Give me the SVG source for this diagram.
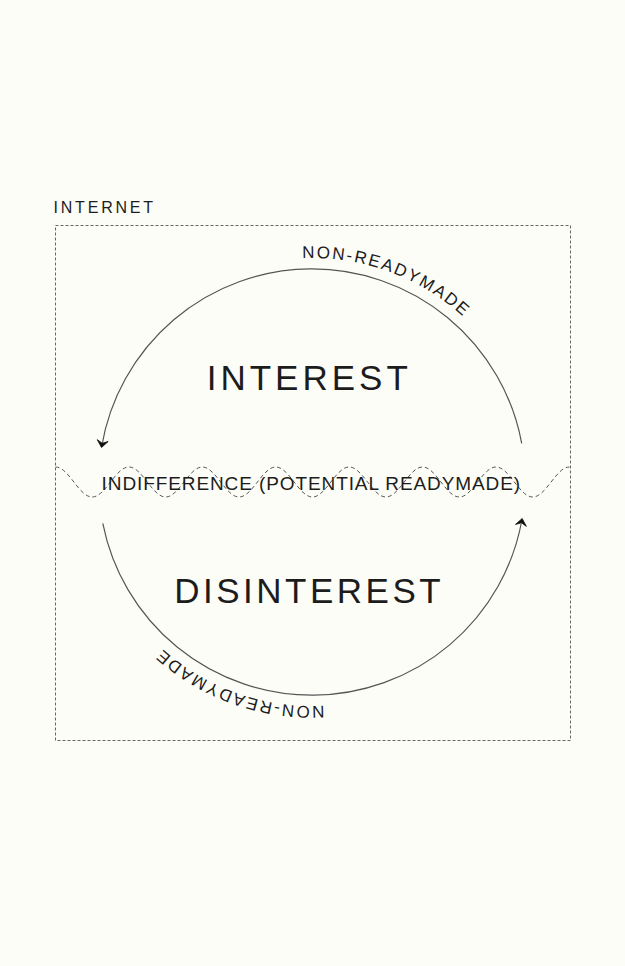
<svg xmlns="http://www.w3.org/2000/svg" width="625" height="966" viewBox="0 0 625 966">
<style>
.bg{fill:#fdfdf7}
.t{font-family:"Liberation Sans",Arial,sans-serif;fill:#1c1c1c}
.box{fill:none;stroke:#666;stroke-width:1;stroke-dasharray:3 2}
.wave{fill:none;stroke:#555;stroke-width:1;stroke-dasharray:4 3}
.arc{fill:none;stroke:#555;stroke-width:1.2}
</style>
<defs>
<marker id="chev" viewBox="-8 -7 10 14" markerWidth="10" markerHeight="14" refX="0" refY="0" orient="auto" markerUnits="userSpaceOnUse" overflow="visible">
<path d="M1,0 L-6,-5.5 L-3.2,0 L-6,5.5 Z" fill="#111" stroke="#111" stroke-width="0.8" stroke-linejoin="round"/>
</marker>
<path id="topPath" d="M302.2,258.2 A224,224 0 0 1 532.6,443.1"/>
<path id="botPath" d="M324.2,705.7 A224,224 0 0 1 91.4,520.9"/>
</defs>
<rect class="bg" x="0" y="0" width="625" height="966"/>
<g id="internet">
<rect class="box" x="55.5" y="225.5" width="515" height="515"/>
<text class="t" x="53.5" y="213" font-size="16" letter-spacing="2.8">INTERNET</text>
</g>
<g id="indifference">
<path class="wave" d="M55.5,467 C68.87,467 78.84,497 92.21,497 S115.55,467 128.92,467 S152.26,497 165.63,497 S188.97,467 202.34,467 S225.68,497 239.05,497 S262.39,467 275.76,467 S299.1,497 312.47,497 S335.81,467 349.18,467 S372.52,497 385.89,497 S409.23,467 422.6,467 S445.94,497 459.31,497 S482.65,467 496.02,467 S519.36,497 532.73,497 S556.07,467 569.44,467"/>
<text class="t" x="101.6" y="490" font-size="19" letter-spacing="0.9">INDIFFERENCE (POTENTIAL READYMADE)</text>
</g>
<g id="interest">
<text class="t" x="206.7" y="390" font-size="35" letter-spacing="4">INTEREST</text>
</g>
<g id="disinterest">
<text class="t" x="174.2" y="603" font-size="35" letter-spacing="3.5">DISINTEREST</text>
</g>
<g id="connectors">
<path class="arc" d="M521.7,443.3 A213.3,213.3 0 0 0 101.7,446.5" marker-end="url(#chev)"/>
<path class="arc" d="M102.8,523.3 A213.3,213.3 0 0 0 522,519.5" marker-end="url(#chev)"/>
<text class="t" font-size="17" letter-spacing="2"><textPath href="#topPath">NON-READYMADE</textPath></text>
<text class="t" font-size="17" letter-spacing="2"><textPath href="#botPath">NON-READYMADE</textPath></text>
</g>
</svg>
